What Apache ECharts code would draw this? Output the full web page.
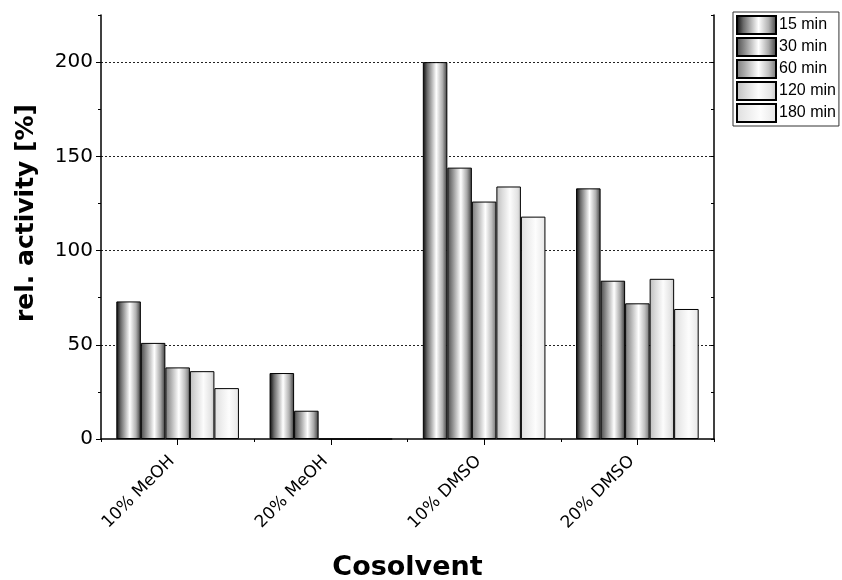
<!DOCTYPE html>
<html>
<head>
<meta charset="utf-8">
<script src="https://cdn.jsdelivr.net/npm/echarts@6/dist/echarts.min.js"></script>
<style>
  html, body { margin: 0; padding: 0; background: #fff; }
  #chart { width: 842px; height: 580px; }
</style>
</head>
<body>
<div id="chart"></div>
<script>
// Cosolvent conditions and incubation times
var categories = ['10% MeOH', '20% MeOH', '10% DMSO', '20% DMSO'];
var seriesNames = ['15 min', '30 min', '60 min', '120 min', '180 min'];

// Relative activity [%] per incubation time
var values15 = [73, 35, 200, 133];
var values30 = [51, 15, 144, 84];
var values60 = [38, 0, 126, 72];
var values120 = [36, 0, 134, 85];
var values180 = [27, 0, 118, 69];

var yTicks = [0, 50, 100, 150, 200];
var yMax = 225;

var seriesValues = [values15, values30, values60, values120, values180];

// Horizontal shading for each bar, darkest for the shortest time
var shades = [
  [[0, '#050505'], [0.18, '#6a6a6a'], [0.55, '#ffffff'], [0.8, '#b0b0b0'], [1, '#3a3a3a']],
  [[0, '#4a4a4a'], [0.2, '#8a8a8a'], [0.55, '#ffffff'], [0.8, '#a8a8a8'], [1, '#3a3a3a']],
  [[0, '#7a7a7a'], [0.2, '#a8a8a8'], [0.55, '#ffffff'], [0.8, '#c0c0c0'], [1, '#707070']],
  [[0, '#bdbdbd'], [0.25, '#dcdcdc'], [0.55, '#fcfcfc'], [0.85, '#e4e4e4'], [1, '#c4c4c4']],
  [[0, '#dedede'], [0.3, '#eeeeee'], [0.6, '#fdfdfd'], [1, '#e6e6e6']]
];

function shade(i) {
  return new echarts.graphic.LinearGradient(0, 0, 1, 0,
    shades[i].map(function (s) { return { offset: s[0], color: s[1] }; }));
}

var series = seriesNames.map(function (name, i) {
  return {
    name: name,
    type: 'bar',
    xAxisIndex: 0,
    yAxisIndex: 0,
    barGap: '0%',
    barCategoryGap: '20%',
    data: seriesValues[i],
    itemStyle: { color: shade(i), borderColor: '#000', borderWidth: 1 }
  };
});

var tickFont = 'DejaVu Sans';

var option = {
  animation: false,
  backgroundColor: '#fff',
  grid: { left: 101, right: 128, top: 15, bottom: 141, containLabel: false, outerBoundsMode: 'none' },
  legend: {
    orient: 'vertical',
    left: 733,
    top: 12,
    padding: [3, 3, 3, 3],
    itemGap: 2,
    itemWidth: 39,
    itemHeight: 18,
    icon: 'rect',
    borderColor: '#333',
    borderWidth: 1,
    textStyle: { fontFamily: 'Liberation Sans', fontSize: 16, color: '#000', padding: [0, 0, 0, -2] },
    data: seriesNames
  },
  xAxis: [
    {
      type: 'category',
      data: categories,
      name: 'Cosolvent',
      nameLocation: 'middle',
      nameGap: 115,
      nameTextStyle: { fontFamily: 'DejaVu Sans', fontWeight: 'bold', fontSize: 27, color: '#000' },
      axisLine: { show: true, lineStyle: { color: '#000', width: 1.5 } },
      axisTick: { show: true, alignWithLabel: true, length: 6, lineStyle: { color: '#000' } },
      axisLabel: { rotate: 45, fontFamily: tickFont, fontSize: 17, color: '#000', margin: 14, padding: [0, 8, 0, 0] },
      splitLine: { show: false }
    },
    {
      // boundary ticks between categories
      type: 'category',
      data: categories,
      position: 'bottom',
      axisLine: { show: false },
      axisTick: { show: true, alignWithLabel: false, length: 3, lineStyle: { color: '#000' } },
      axisLabel: { show: false },
      splitLine: { show: false }
    }
  ],
  yAxis: [
    {
      type: 'value',
      min: 0,
      max: yMax,
      interval: 50,
      name: 'rel. activity [%]',
      nameLocation: 'middle',
      nameGap: 62,
      nameTextStyle: { fontFamily: 'DejaVu Sans', fontWeight: 'bold', fontSize: 25, color: '#000', padding: [0, 0, 0, 28] },
      axisLine: { show: true, lineStyle: { color: '#000', width: 1.5 } },
      axisTick: { show: true, length: 5, customValues: yTicks, lineStyle: { color: '#000' } },
      axisLabel: { customValues: yTicks, fontFamily: tickFont, fontSize: 20, color: '#000', margin: 8 },
      splitLine: {
        show: true, showMinLine: false, showMaxLine: true,
        lineStyle: { color: '#222', type: [2, 2], width: 1 }
      }
    },
    {
      // minor ticks on the left axis
      type: 'value',
      min: 0,
      max: yMax,
      interval: 25,
      position: 'left',
      axisLine: { show: false },
      axisTick: { show: true, length: 3, lineStyle: { color: '#000' } },
      axisLabel: { show: false },
      splitLine: { show: false }
    },
    {
      // right frame axis with inward ticks
      type: 'value',
      min: 0,
      max: yMax,
      interval: 25,
      position: 'right',
      axisLine: { show: true, lineStyle: { color: '#000', width: 1.5 } },
      axisTick: { show: true, inside: true, length: 3, lineStyle: { color: '#000' } },
      axisLabel: { show: false },
      splitLine: { show: false }
    }
  ],
  series: series
};

var chart = echarts.init(document.getElementById('chart'), null, { renderer: 'canvas' });
chart.setOption(option);
</script>
</body>
</html>
